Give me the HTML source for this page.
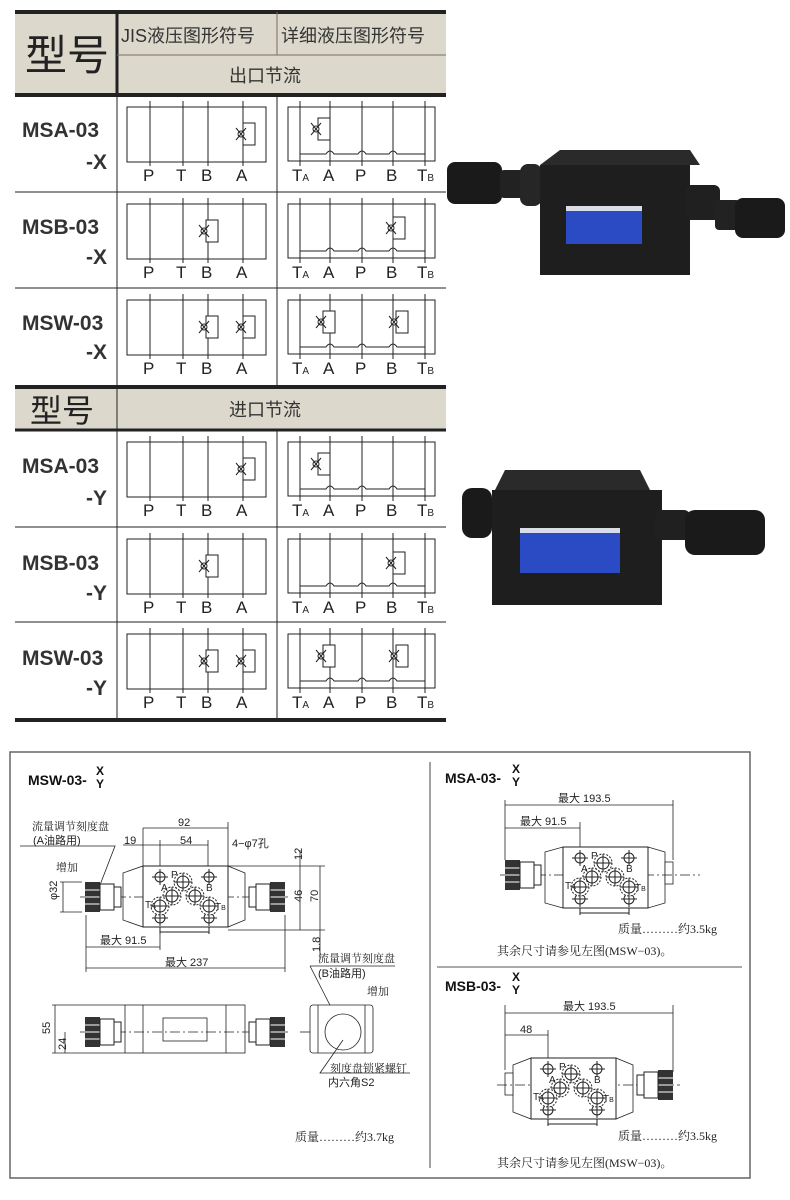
<!DOCTYPE html>
<html><head><meta charset="utf-8"><style>
html,body{margin:0;padding:0;background:#fff}
svg{display:block}
.cn{font-family:"Liberation Sans","Noto Sans CJK SC",sans-serif}
.sr{font-family:"Liberation Serif","Noto Serif CJK SC",serif}
</style></head><body>
<svg width="790" height="1200" viewBox="0 0 790 1200" xmlns="http://www.w3.org/2000/svg" class="cn">
<defs>
<g id="lb" stroke="#222" stroke-width="1" fill="none">
<rect x="127" y="12" width="139" height="55"/>
<line x1="150" y1="6" x2="150" y2="71"/><line x1="183" y1="6" x2="183" y2="71"/>
<line x1="208" y1="6" x2="208" y2="71"/><line x1="243" y1="6" x2="243" y2="71"/>
</g>
<g id="rb" stroke="#222" stroke-width="1" fill="none">
<rect x="288" y="12" width="147" height="54"/>
<line x1="300" y1="6" x2="300" y2="71"/><line x1="330" y1="6" x2="330" y2="71"/>
<line x1="362" y1="6" x2="362" y2="71"/><line x1="393" y1="6" x2="393" y2="71"/>
<line x1="425" y1="6" x2="425" y2="71"/>
<path d="M300 59 H326 q4 -6 8 0 H358 q4 -6 8 0 H389 q4 -6 8 0 H425"/>
</g>
<g id="tv" stroke="#222" stroke-width="1" fill="#fff">
<rect x="-2" y="-11" width="12" height="22"/>
<circle cx="-4" cy="0" r="3"/>
<path d="M-9 -6 L1 6 M-9 6 L1 -6" fill="none"/>
</g>
<g id="lab" font-size="17" fill="#222" font-family="Liberation Sans,sans-serif">
<text x="143" y="86">P</text><text x="176" y="86">T</text><text x="201" y="86">B</text><text x="236" y="86">A</text>
<text x="292" y="86">T<tspan font-size="10">A</tspan></text><text x="323" y="86">A</text><text x="355" y="86">P</text><text x="386" y="86">B</text><text x="417" y="86">T<tspan font-size="10">B</tspan></text>
</g>
<g id="knob">
<rect x="0" y="0" width="15" height="30" fill="#333"/>
<line x1="0" y1="8" x2="15" y2="8" stroke="#fff"/><line x1="0" y1="15" x2="15" y2="15" stroke="#fff"/><line x1="0" y1="22" x2="15" y2="22" stroke="#fff"/>
<rect x="15" y="2" width="14" height="26" fill="#fff" stroke="#222"/>
<rect x="29" y="5" width="7" height="20" fill="#fff" stroke="#222"/>
</g>
<g id="ports" fill="none" stroke="#222" stroke-width="1">
<circle cx="0" cy="0" r="5"/><line x1="-8" y1="0" x2="8" y2="0"/><line x1="0" y1="-8" x2="0" y2="8"/>
</g>
<g id="port2" fill="#fff" stroke="#222" stroke-width="1">
<circle r="9" stroke-dasharray="2 1.5"/><circle r="6"/><line x1="-9" y1="0" x2="9" y2="0"/><line x1="0" y1="-9" x2="0" y2="9"/>
</g>
<g id="plan">
<rect x="0" y="0" width="85" height="61" fill="#fff" stroke="#222"/>
<use href="#ports" x="17" y="11"/><use href="#ports" x="66" y="11"/><use href="#ports" x="17" y="52"/><use href="#ports" x="66" y="52"/>
<use href="#port2" x="40" y="16"/><use href="#port2" x="29" y="30"/><use href="#port2" x="52" y="30"/><use href="#port2" x="17" y="40"/><use href="#port2" x="66" y="40"/>
<g font-size="10" fill="#222"><text x="28" y="12">P</text><text x="18" y="25">A</text><text x="63" y="25">B</text><text x="2" y="42">T<tspan font-size="7">A</tspan></text><text x="72" y="44">T<tspan font-size="7">B</tspan></text></g>
<path d="M17 61 V68 M66 61 V68 M17 66 H66" stroke="#222" fill="none"/>
</g>
</defs>

<!-- TABLE -->
<rect x="15" y="12" width="431" height="83" fill="#dcd8cc"/>
<rect x="15" y="388" width="431" height="42" fill="#dcd8cc"/>
<g stroke="#222" fill="none">
<line x1="15" y1="12" x2="446" y2="12" stroke-width="4"/>
<line x1="15" y1="95" x2="446" y2="95" stroke-width="4"/>
<line x1="117" y1="12" x2="117" y2="95" stroke-width="3"/>
<line x1="117" y1="55" x2="446" y2="55" stroke="#7a6a60"/>
<line x1="277" y1="12" x2="277" y2="55" stroke="#7a6a60"/>
<line x1="117" y1="95" x2="117" y2="385"/>
<line x1="277" y1="95" x2="277" y2="385"/>
<line x1="15" y1="192" x2="446" y2="192"/>
<line x1="15" y1="288" x2="446" y2="288"/>
<line x1="15" y1="387" x2="446" y2="387" stroke-width="4"/>
<line x1="15" y1="430" x2="446" y2="430" stroke-width="3"/>
<line x1="117" y1="387" x2="117" y2="720" stroke-width="1"/>
<line x1="277" y1="430" x2="277" y2="720"/>
<line x1="15" y1="527" x2="446" y2="527"/>
<line x1="15" y1="622" x2="446" y2="622"/>
<line x1="15" y1="720" x2="446" y2="720" stroke-width="4"/>
</g>
<text x="25" y="70" font-size="42" fill="#222">型号</text>
<text x="121" y="42" font-size="18" fill="#333">JIS液压图形符号</text>
<text x="281" y="42" font-size="18" fill="#333">详细液压图形符号</text>
<text x="229" y="82" font-size="18" fill="#333">出口节流</text>
<text x="30" y="422" font-size="32" fill="#222">型号</text>
<text x="229" y="416" font-size="18" fill="#333">进口节流</text>

<g font-weight="bold" font-size="21" fill="#333">
<text x="22" y="137">MSA-03</text><text x="107" y="169" text-anchor="end">-X</text>
<text x="22" y="234">MSB-03</text><text x="107" y="264" text-anchor="end">-X</text>
<text x="22" y="330">MSW-03</text><text x="107" y="359" text-anchor="end">-X</text>
<text x="22" y="473">MSA-03</text><text x="107" y="505" text-anchor="end">-Y</text>
<text x="22" y="570">MSB-03</text><text x="107" y="600" text-anchor="end">-Y</text>
<text x="22" y="665">MSW-03</text><text x="107" y="695" text-anchor="end">-Y</text>
</g>

<g transform="translate(0,95)"><use href="#lb"/><use href="#rb"/><use href="#lab"/><use href="#tv" x="245" y="39"/><use href="#tv" x="320" y="34"/></g>
<g transform="translate(0,192)"><use href="#lb"/><use href="#rb"/><use href="#lab"/><use href="#tv" x="208" y="39"/><use href="#tv" x="395" y="36"/></g>
<g transform="translate(0,288)"><use href="#lb"/><use href="#rb"/><use href="#lab"/><use href="#tv" x="208" y="39"/><use href="#tv" x="245" y="39"/><use href="#tv" x="325" y="34"/><use href="#tv" x="398" y="34"/></g>
<g transform="translate(0,430)"><use href="#lb"/><use href="#rb"/><use href="#lab"/><use href="#tv" x="245" y="39"/><use href="#tv" x="320" y="34"/></g>
<g transform="translate(0,527)"><use href="#lb"/><use href="#rb"/><use href="#lab"/><use href="#tv" x="208" y="39"/><use href="#tv" x="395" y="36"/></g>
<g transform="translate(0,622)"><use href="#lb"/><use href="#rb"/><use href="#lab"/><use href="#tv" x="208" y="39"/><use href="#tv" x="245" y="39"/><use href="#tv" x="325" y="34"/><use href="#tv" x="398" y="34"/></g>

<!-- PHOTO 1 -->
<g>
<rect x="447" y="162" width="55" height="42" rx="8" fill="#1a1a1a"/>
<rect x="500" y="170" width="25" height="28" rx="4" fill="#222"/>
<rect x="520" y="164" width="22" height="42" rx="8" fill="#262626"/>
<polygon points="560,150 690,150 700,165 540,165" fill="#2a2a2a"/>
<rect x="540" y="165" width="150" height="110" fill="#1e1e1e"/>
<rect x="685" y="185" width="35" height="35" rx="6" fill="#202020"/>
<rect x="715" y="200" width="25" height="30" rx="4" fill="#222"/>
<rect x="735" y="198" width="50" height="40" rx="8" fill="#1a1a1a"/>
<rect x="566" y="206" width="76" height="38" fill="#2a4bc4"/>
<rect x="566" y="206" width="76" height="5" fill="#d8dde8"/>
</g>
<!-- PHOTO 2 -->
<g>
<rect x="462" y="488" width="30" height="50" rx="10" fill="#1a1a1a"/>
<polygon points="505,470 640,470 650,490 495,490" fill="#2a2a2a"/>
<rect x="492" y="490" width="170" height="115" fill="#1e1e1e"/>
<rect x="655" y="510" width="35" height="30" rx="6" fill="#202020"/>
<rect x="685" y="510" width="80" height="45" rx="10" fill="#1a1a1a"/>
<rect x="520" y="528" width="100" height="45" fill="#2a4bc4"/>
<rect x="520" y="528" width="100" height="5" fill="#d8dde8"/>
</g>

<!-- DRAWING FRAME -->
<rect x="10" y="752" width="740" height="426" fill="none" stroke="#666" stroke-width="1.5"/>
<line x1="430" y1="762" x2="430" y2="1168" stroke="#444"/>
<line x1="437" y1="967" x2="742" y2="967" stroke="#555"/>

<g font-weight="bold" font-size="14" fill="#111">
<text x="28" y="785">MSW-03-</text><text x="96" y="775" font-size="12">X</text><text x="96" y="788" font-size="12">Y</text>
<text x="445" y="783">MSA-03-</text><text x="512" y="773" font-size="12">X</text><text x="512" y="786" font-size="12">Y</text>
<text x="445" y="991">MSB-03-</text><text x="512" y="981" font-size="12">X</text><text x="512" y="994" font-size="12">Y</text>
</g>

<g stroke="#222" fill="none" stroke-width="0.8">
<polygon points="123,873 143,866 143,927 123,920" fill="#fff"/>
<polygon points="245,873 228,866 228,927 245,920" fill="#fff"/>
<line x1="80" y1="897" x2="290" y2="897" stroke-dasharray="10 3 2 3"/>
<line x1="143" y1="828" x2="143" y2="866"/><line x1="228" y1="822" x2="228" y2="866"/>
<line x1="143" y1="828" x2="228" y2="828"/><line x1="123" y1="845" x2="208" y2="845"/>
<line x1="160" y1="840" x2="160" y2="950"/><line x1="208" y1="840" x2="208" y2="866"/>
<line x1="228" y1="866" x2="325" y2="866"/><line x1="228" y1="930" x2="325" y2="930"/>
<line x1="300" y1="850" x2="300" y2="930"/><line x1="320" y1="866" x2="320" y2="960"/>
<line x1="86" y1="915" x2="86" y2="972"/><line x1="285" y1="915" x2="285" y2="972"/>
<line x1="86" y1="947" x2="160" y2="947"/><line x1="86" y1="968" x2="285" y2="968"/>
<line x1="63" y1="882" x2="63" y2="912"/><line x1="60" y1="882" x2="82" y2="882"/><line x1="60" y1="912" x2="82" y2="912"/>
<path d="M20 846 H115 L100 885"/>
<path d="M310 966 H395 M310 966 L335 1015"/>
<rect x="125" y="1005" width="120" height="48" fill="#fff"/>
<line x1="143" y1="1005" x2="143" y2="1053"/><line x1="226" y1="1005" x2="226" y2="1053"/>
<rect x="163" y="1018" width="44" height="23"/>
<line x1="80" y1="1032" x2="290" y2="1032" stroke-dasharray="10 3 2 3"/>
<line x1="52" y1="1005" x2="125" y2="1005"/><line x1="52" y1="1053" x2="125" y2="1053"/><line x1="55" y1="1005" x2="55" y2="1053"/>
<line x1="65" y1="1032" x2="65" y2="1053"/>
<rect x="310" y="1005" width="63" height="48" rx="3" fill="#fff"/>
<line x1="318" y1="1005" x2="318" y2="1053"/><line x1="365" y1="1005" x2="365" y2="1053"/>
<circle cx="343" cy="1032" r="18"/><line x1="300" y1="1032" x2="310" y2="1032"/>
<path d="M343 1040 L320 1073 H410"/>
<polygon points="545,852 563,847 563,908 545,903" fill="#fff"/>
<polygon points="665,852 648,847 648,908 665,903" fill="#fff"/>
<rect x="665" y="862" width="8" height="22" fill="#fff"/>
<line x1="500" y1="875" x2="700" y2="875" stroke-dasharray="10 3 2 3"/>
<line x1="505" y1="800" x2="505" y2="860"/><line x1="673" y1="800" x2="673" y2="860"/>
<line x1="505" y1="805" x2="673" y2="805"/><line x1="505" y1="828" x2="580" y2="828"/><line x1="580" y1="822" x2="580" y2="858"/>
<polygon points="513,1065 531,1058 531,1119 513,1112" fill="#fff"/>
<polygon points="633,1065 616,1058 616,1119 633,1112" fill="#fff"/>
<rect x="505" y="1073" width="8" height="22" fill="#fff"/>
<line x1="497" y1="1085" x2="680" y2="1085" stroke-dasharray="10 3 2 3"/>
<line x1="505" y1="1005" x2="505" y2="1070"/><line x1="673" y1="1005" x2="673" y2="1072"/>
<line x1="505" y1="1013" x2="673" y2="1013"/><line x1="505" y1="1035" x2="548" y2="1035"/><line x1="548" y1="1030" x2="548" y2="1068"/>
</g>
<use href="#plan" x="143" y="866"/>
<use href="#knob" x="85" y="882"/>
<use href="#knob" transform="translate(285,882) scale(-1,1)"/>
<use href="#knob" x="85" y="1017"/>
<use href="#knob" transform="translate(285,1017) scale(-1,1)"/>
<use href="#plan" x="563" y="847"/>
<use href="#knob" x="505" y="860"/>
<use href="#plan" x="531" y="1058"/>
<use href="#knob" transform="translate(673,1070) scale(-1,1)"/>

<g font-size="11" fill="#222">
<text x="178" y="826">92</text><text x="180" y="844">54</text><text x="124" y="844">19</text>
<text x="232" y="847">4−φ7孔</text>
<text x="57" y="900" transform="rotate(-90 57 900)">φ32</text>
<text x="302" y="902" transform="rotate(-90 302 902)">46</text>
<text x="318" y="902" transform="rotate(-90 318 902)">70</text>
<text x="302" y="860" transform="rotate(-90 302 860)">12</text>
<text x="320" y="952" transform="rotate(-90 320 952)">1.8</text>
<text x="100" y="944">最大 91.5</text><text x="165" y="966">最大 237</text>
<text x="32" y="830" class="sr">流量调节刻度盘</text><text x="33" y="844">(A油路用)</text><text x="56" y="871" class="sr">增加</text>
<text x="318" y="962" class="sr">流量调节刻度盘</text><text x="318" y="977">(B油路用)</text><text x="367" y="995" class="sr">增加</text>
<text x="50" y="1034" transform="rotate(-90 50 1034)">55</text>
<text x="66" y="1050" transform="rotate(-90 66 1050)">24</text>
<text x="330" y="1072" class="sr">刻度盘锁紧螺钉</text><text x="328" y="1086">内六角S2</text>
<text x="295" y="1141" class="sr" font-size="12">质量………约3.7kg</text>
<text x="558" y="802">最大 193.5</text><text x="520" y="825">最大 91.5</text>
<text x="618" y="933" class="sr" font-size="12">质量………约3.5kg</text>
<text x="497" y="955" class="sr" font-size="12">其余尺寸请参见左图(MSW−03)。</text>
<text x="563" y="1010">最大 193.5</text><text x="520" y="1033">48</text>
<text x="618" y="1140" class="sr" font-size="12">质量………约3.5kg</text>
<text x="497" y="1167" class="sr" font-size="12">其余尺寸请参见左图(MSW−03)。</text>
</g>
</svg>
</body></html>
